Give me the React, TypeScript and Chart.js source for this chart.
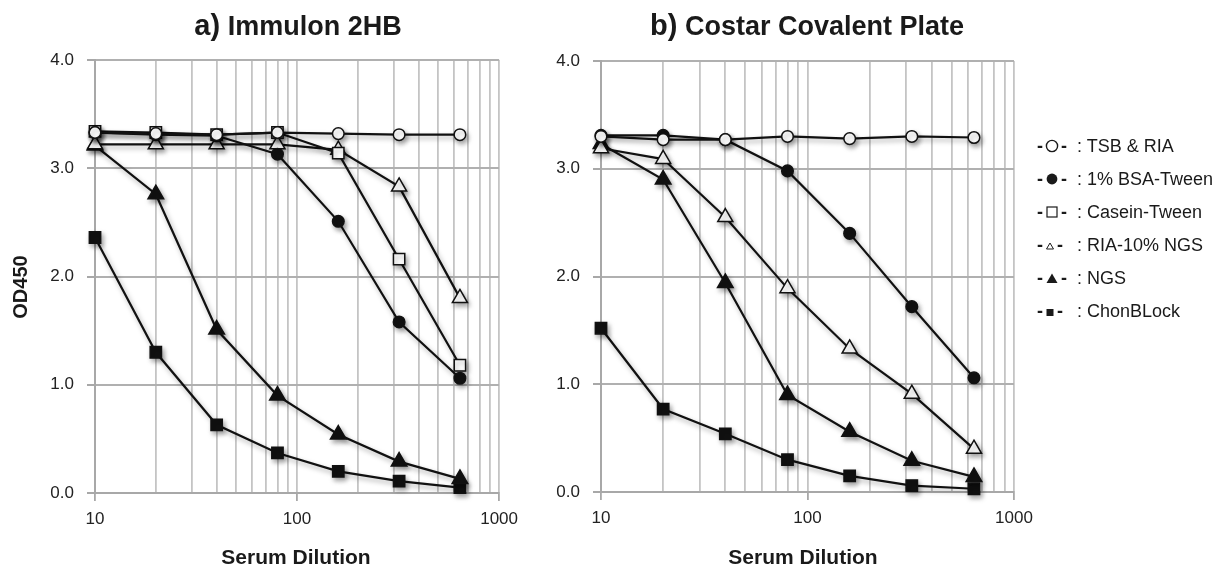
import React, { useEffect, useRef } from 'react';
import { Chart, registerables } from 'chart.js';

Chart.register(...registerables);

// ---------- data ----------
const dilutions = [10, 20, 40, 80, 160, 320, 640];
const xMajorTicks = [10, 100, 1000];
const yTicks = [0, 1, 2, 3, 4];

const seriesNames = ['TSB & RIA', '1% BSA-Tween', 'Casein-Tween', 'RIA-10% NGS', 'NGS', 'ChonBLock'];

// Panel a) Immulon 2HB
const aTsb = [3.33, 3.32, 3.31, 3.33, 3.32, 3.31, 3.31];
const aBsa = [3.33, 3.31, 3.30, 3.13, 2.51, 1.58, 1.06];
const aCasein = [3.34, 3.33, 3.31, 3.33, 3.14, 2.16, 1.18];
const aRia = [3.22, 3.22, 3.22, 3.22, 3.17, 2.83, 1.80];
const aNgs = [3.21, 2.76, 1.51, 0.90, 0.54, 0.29, 0.13];
const aChon = [2.36, 1.30, 0.63, 0.37, 0.20, 0.11, 0.05];

// Panel b) Costar Covalent Plate
const bTsb = [3.30, 3.27, 3.27, 3.30, 3.28, 3.30, 3.29];
const bBsa = [3.31, 3.31, 3.27, 2.98, 2.40, 1.72, 1.06];
const bRia = [3.19, 3.09, 2.55, 1.89, 1.33, 0.91, 0.40];
const bNgs = [3.23, 2.90, 1.94, 0.90, 0.56, 0.29, 0.14];
const bChon = [1.52, 0.77, 0.54, 0.30, 0.15, 0.06, 0.03];

type Style = { pointStyle: string; fill: string; radius: number };
const seriesStyles: Record<string, Style> = {
  'TSB & RIA': { pointStyle: 'circle', fill: '#ffffff', radius: 5.8 },
  '1% BSA-Tween': { pointStyle: 'circle', fill: '#111111', radius: 5.8 },
  'Casein-Tween': { pointStyle: 'rect', fill: '#ffffff', radius: 8 },
  'RIA-10% NGS': { pointStyle: 'triangle', fill: '#ffffff', radius: 8.7 },
  'NGS': { pointStyle: 'triangle', fill: '#111111', radius: 9 },
  'ChonBLock': { pointStyle: 'rect', fill: '#111111', radius: 8 },
};

const FONT = '"Liberation Sans", Arial, Helvetica, sans-serif';
const X_AXIS_H = 42;

const shadowPlugin = {
  id: 'softShadow',
  beforeDatasetsDraw(chart: any) {
    const ctx = chart.ctx;
    ctx.save();
    ctx.shadowColor = 'rgba(0,0,0,0.35)';
    ctx.shadowBlur = 5;
    ctx.shadowOffsetX = 2;
    ctx.shadowOffsetY = 3;
  },
  afterDatasetsDraw(chart: any) {
    chart.ctx.restore();
  },
};

type PanelProps = {
  left: number;
  width: number;
  axisWidth: number;
  rightPad: number;
  top: number;
  bottom: number;
  series: { name: string; values: number[] }[];
};

function Panel({ left, width, axisWidth, rightPad, top, bottom, series }: PanelProps) {
  const ref = useRef<HTMLCanvasElement>(null);
  useEffect(() => {
    const xGridValues: number[] = [];
    for (let i = 0; i < xMajorTicks.length - 1; i++) {
      for (let k = 1; k < 10; k++) xGridValues.push(xMajorTicks[i] * k);
    }
    xGridValues.push(xMajorTicks[xMajorTicks.length - 1]);

    const datasets = series.map((s) => {
      const st = seriesStyles[s.name];
      return {
        label: s.name,
        data: dilutions.map((d, i) => ({ x: d, y: s.values[i] })),
        borderColor: '#111111',
        borderWidth: 2.2,
        pointStyle: st.pointStyle,
        pointRadius: st.radius,
        pointBackgroundColor: st.fill,
        pointBorderColor: '#111111',
        pointBorderWidth: 1.5,
        tension: 0,
        clip: false,
      };
    });

    const chart = new Chart(ref.current!, {
      type: 'line',
      data: { datasets } as any,
      options: {
        responsive: false,
        animation: false,
        events: [],
        layout: { padding: { top, right: rightPad, bottom: 569 - bottom - X_AXIS_H, left: 0 } },
        plugins: { legend: { display: false }, tooltip: { enabled: false }, title: { display: false } },
        scales: {
          x: {
            type: 'logarithmic',
            min: 10,
            max: 1000,
            afterBuildTicks: (scale: any) => {
              scale.ticks = xGridValues.map((v) => ({ value: v, major: xMajorTicks.includes(v) }));
            },
            afterFit: (scale: any) => {
              scale.height = X_AXIS_H;
            },
            ticks: {
              autoSkip: false,
              maxRotation: 0,
              padding: 8,
              color: '#222222',
              font: { family: FONT, size: 17 },
              callback: (v: any) => (xMajorTicks.includes(Number(v)) ? String(v) : ''),
            },
            grid: {
              color: '#c4c4c4',
              lineWidth: 1.8,
              tickLength: 8,
              tickColor: (c: any) => (c.tick && xMajorTicks.includes(c.tick.value) ? '#a8a8a8' : 'rgba(0,0,0,0)'),
              tickWidth: 1.8,
            },
            border: { color: '#a8a8a8', width: 2 },
          },
          y: {
            type: 'linear',
            min: 0,
            max: 4,
            afterBuildTicks: (scale: any) => {
              scale.ticks = yTicks.map((v) => ({ value: v }));
            },
            afterFit: (scale: any) => {
              scale.width = axisWidth;
            },
            ticks: {
              padding: 13,
              color: '#222222',
              font: { family: FONT, size: 17 },
              callback: (v: any) => Number(v).toFixed(1),
            },
            grid: {
              color: '#b0b0b0',
              lineWidth: 2,
              tickLength: 8,
              tickColor: '#a8a8a8',
            },
            border: { color: '#a8a8a8', width: 2 },
          },
        },
      } as any,
      plugins: [shadowPlugin],
    });
    return () => chart.destroy();
  }, []);
  return (
    <canvas
      ref={ref}
      width={width}
      height={569}
      style={{ position: 'absolute', left, top: 0, width, height: 569 }}
    />
  );
}

function LegendShape({ kind }: { kind: number }) {
  const stroke = '#1a1a1a';
  let shape: React.ReactNode = null;
  let w = 14;
  if (kind === 0) shape = <circle cx={7} cy={7} r={5.6} fill="#fff" stroke={stroke} strokeWidth={1.4} />;
  if (kind === 1) shape = <circle cx={7} cy={7} r={5.4} fill={stroke} />;
  if (kind === 2) shape = <rect x={2} y={2} width={10} height={10} fill="#fff" stroke={stroke} strokeWidth={1.2} />;
  if (kind === 3) {
    w = 10;
    shape = <polygon points="5,5 8.5,11 1.5,11" fill="#fff" stroke={stroke} strokeWidth={1} />;
  }
  if (kind === 4) shape = <polygon points="7,2.5 12.5,12 1.5,12" fill={stroke} />;
  if (kind === 5) {
    w = 10;
    shape = <rect x={1.5} y={5} width={7} height={7} fill={stroke} />;
  }
  return (
    <svg width={w} height={14} style={{ display: 'inline-block', margin: '0 2px', verticalAlign: '-1px' }}>
      {shape}
    </svg>
  );
}

const boldText: React.CSSProperties = {
  position: 'absolute',
  fontFamily: FONT,
  fontWeight: 'bold',
  color: '#1a1a1a',
  whiteSpace: 'nowrap',
};

export default function App() {
  const panelA = [
    { name: seriesNames[0], values: aTsb },
    { name: seriesNames[1], values: aBsa },
    { name: seriesNames[2], values: aCasein },
    { name: seriesNames[3], values: aRia },
    { name: seriesNames[4], values: aNgs },
    { name: seriesNames[5], values: aChon },
  ];
  const panelB = [
    { name: seriesNames[0], values: bTsb },
    { name: seriesNames[1], values: bBsa },
    { name: seriesNames[3], values: bRia },
    { name: seriesNames[4], values: bNgs },
    { name: seriesNames[5], values: bChon },
  ];
  return (
    <div style={{ position: 'absolute', left: 0, top: 0, width: 1230, height: 569, background: '#ffffff', overflow: 'hidden' }}>
      <Panel left={0} width={526} axisWidth={95} rightPad={25} top={60} bottom={493} series={panelA} />
      <Panel left={505} width={540} axisWidth={96} rightPad={31} top={61} bottom={492} series={panelB} />

      {/* titles */}
      <div style={{ ...boldText, left: 98, width: 400, top: 8, textAlign: 'center', fontSize: 27, lineHeight: '34px' }}>
        <span style={{ fontSize: 29 }}>a)</span> Immulon 2HB
      </div>
      <div style={{ ...boldText, left: 607, width: 400, top: 8, textAlign: 'center', fontSize: 27, lineHeight: '34px' }}>
        <span style={{ fontSize: 29 }}>b)</span> Costar Covalent Plate
      </div>

      {/* axis titles */}
      <div style={{ ...boldText, left: 196, width: 200, top: 545, textAlign: 'center', fontSize: 21, lineHeight: '24px' }}>
        Serum Dilution
      </div>
      <div style={{ ...boldText, left: 703, width: 200, top: 545, textAlign: 'center', fontSize: 21, lineHeight: '24px' }}>
        Serum Dilution
      </div>
      <div
        style={{
          ...boldText,
          left: 20 - 50,
          top: 287 - 12,
          width: 100,
          textAlign: 'center',
          fontSize: 20,
          lineHeight: '24px',
          transform: 'rotate(-90deg)',
        }}
      >
        OD450
      </div>

      {/* legend */}
      <div style={{ position: 'absolute', left: 1037, top: 130, fontFamily: FONT, fontSize: 18, color: '#1a1a1a' }}>
        {seriesNames.map((n, i) => (
          <div key={n} style={{ display: 'flex', height: 33, lineHeight: '33px', whiteSpace: 'nowrap' }}>
            <span style={{ display: 'inline-block', width: 40, fontWeight: 'bold' }}>
              -<LegendShape kind={i} />-
            </span>
            <span>: {n}</span>
          </div>
        ))}
      </div>
    </div>
  );
}
